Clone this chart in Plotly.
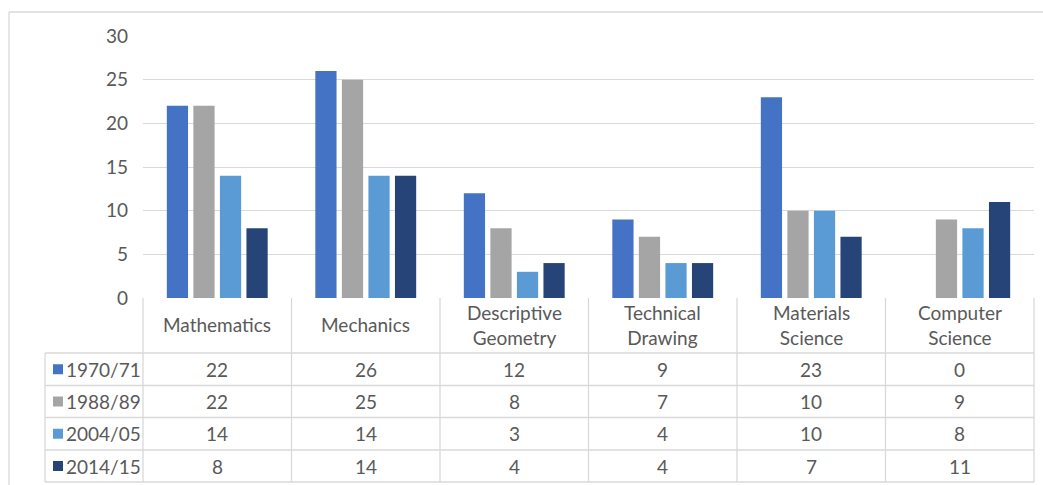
import plotly.graph_objects as go

# ---------------- data ----------------
categories = ["Mathematics", "Mechanics", "Descriptive Geometry",
              "Technical Drawing", "Materials Science", "Computer Science"]
header_labels = ["Mathematics", "Mechanics", "Descriptive<br>Geometry",
                 "Technical<br>Drawing", "Materials<br>Science", "Computer<br>Science"]
series_names = ["1970/71", "1988/89", "2004/05", "2014/15"]
v_1970 = [22, 26, 12, 9, 23, 0]
v_1988 = [22, 25, 8, 7, 10, 9]
v_2004 = [14, 14, 3, 4, 10, 8]
v_2014 = [8, 14, 4, 4, 7, 11]
series_values = [v_1970, v_1988, v_2004, v_2014]
y_ticks = [0, 5, 10, 15, 20, 25, 30]

colors = ["#4472C4", "#A5A5A5", "#5B9BD5", "#264478"]

# ---------------- layout geometry (pixels) ----------------
W, H = 1043, 485
PX_L, PX_R = 143, 1034       # plot area x-range
PY_TOP, PY_BOT = 36, 298     # y=30 and y=0
TABLE_L = 45
ROW_LINES = [353, 385.5, 417.5, 450, 482]
LINE_C = "#D9D9D9"
TXT_C = "#595959"
FONT = "Lato"
FS = 19


def fx(px):
    return px / W


def fy(py):
    return 1 - py / H


fig = go.Figure()
for name, vals, c in zip(series_names, series_values, colors):
    fig.add_trace(go.Bar(x=categories, y=vals, name=name, marker_color=c,
                         marker_line_width=0, hoverinfo="skip"))

shapes = []
annotations = []


def hline(x0, x1, y):
    shapes.append(dict(type="line", xref="paper", yref="paper",
                       x0=fx(x0), x1=fx(x1), y0=fy(y), y1=fy(y),
                       line=dict(color=LINE_C, width=1.3)))


def vline(x, y0, y1):
    shapes.append(dict(type="line", xref="paper", yref="paper",
                       x0=fx(x), x1=fx(x), y0=fy(y0), y1=fy(y1),
                       line=dict(color=LINE_C, width=1.3)))


# outer chart frame (top and left visible)
hline(9, W, 12)
vline(9, 12, H)

# table grid
col_w = (PX_R - PX_L) / len(categories)
col_edges = [PX_L + i * col_w for i in range(len(categories) + 1)]
for y in ROW_LINES:
    hline(TABLE_L, PX_R, y)
for x in col_edges:
    vline(x, PY_BOT, ROW_LINES[-1])
vline(TABLE_L, ROW_LINES[0], ROW_LINES[-1])

# header labels
for i, lab in enumerate(header_labels):
    cx = (col_edges[i] + col_edges[i + 1]) / 2
    annotations.append(dict(xref="paper", yref="paper", x=fx(cx),
                            y=fy((PY_BOT + ROW_LINES[0]) / 2 - 1),
                            text=lab, showarrow=False, xanchor="center",
                            yanchor="middle",
                            font=dict(family=FONT, size=FS, color=TXT_C)))

# rows: legend key + values
for r, (name, vals, c) in enumerate(zip(series_names, series_values, colors)):
    cy = (ROW_LINES[r] + ROW_LINES[r + 1]) / 2
    shapes.append(dict(type="rect", xref="paper", yref="paper",
                       x0=fx(53), x1=fx(63), y0=fy(cy - 5), y1=fy(cy + 5),
                       fillcolor=c, line=dict(width=0)))
    annotations.append(dict(xref="paper", yref="paper", x=fx(64), y=fy(cy),
                            text=name, showarrow=False, xanchor="left",
                            yanchor="middle",
                            font=dict(family=FONT, size=FS, color=TXT_C)))
    for i, v in enumerate(vals):
        cx = (col_edges[i] + col_edges[i + 1]) / 2
        annotations.append(dict(xref="paper", yref="paper", x=fx(cx), y=fy(cy),
                                text=str(v), showarrow=False, xanchor="center",
                                yanchor="middle",
                                font=dict(family=FONT, size=FS, color=TXT_C)))

fig.update_layout(
    width=W, height=H, autosize=False,
    margin=dict(l=0, r=0, t=0, b=0, pad=0, autoexpand=False),
    paper_bgcolor="white", plot_bgcolor="white",
    barmode="group", bargap=0.285, bargroupgap=0.2,
    showlegend=False,
    shapes=shapes, annotations=annotations,
    xaxis=dict(domain=[fx(PX_L), fx(PX_R)], showticklabels=False,
               showgrid=False, zeroline=False, showline=False, ticks="",
               automargin=False),
    yaxis=dict(domain=[fy(PY_BOT), fy(PY_TOP)], range=[0, 30],
               tickvals=y_ticks, showgrid=True, gridcolor=LINE_C, gridwidth=1.3,
               zeroline=False, showline=False, ticks="",
               ticklabelstandoff=14, automargin=False,
               tickfont=dict(family=FONT, size=FS, color=TXT_C)),
)

fig.write_html("out.html")
